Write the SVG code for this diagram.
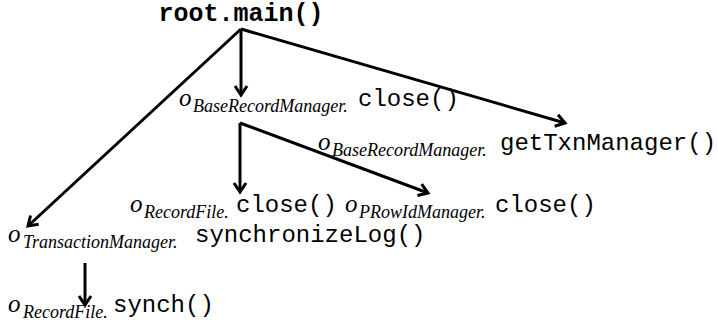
<svg xmlns="http://www.w3.org/2000/svg" width="718" height="328" viewBox="0 0 718 328">
<defs>
<marker id="ah" markerUnits="userSpaceOnUse" viewBox="-12 -8 14 16" refX="0" refY="0" markerWidth="14" markerHeight="16" orient="auto" overflow="visible">
<path d="M-9,-6 L0,0 L-9,6" fill="none" stroke="#000" stroke-width="3" stroke-linejoin="miter"/>
</marker>
<style>
.ln{stroke:#000;stroke-width:3;fill:none;marker-end:url(#ah)}
.o{font-family:"Liberation Serif",serif;font-style:italic;font-size:25px;fill:#000}
.sub{font-family:"Liberation Serif",serif;font-style:italic;font-size:18px;fill:#000}
.m{font-family:"Liberation Mono",monospace;font-size:24px;fill:#000}
.root{font-family:"Liberation Mono",monospace;font-size:25px;font-weight:bold;fill:#000}
</style>
</defs>
<rect width="718" height="328" fill="#fff"/>
<g id="connectors">
<line class="ln" x1="241" y1="29" x2="241" y2="95"/>
<line class="ln" x1="241" y1="29" x2="565" y2="123"/>
<line class="ln" x1="241" y1="29" x2="28" y2="226"/>
<line class="ln" x1="240" y1="123" x2="240" y2="192"/>
<line class="ln" x1="240" y1="123" x2="428" y2="193"/>
<line class="ln" x1="85" y1="263" x2="85" y2="305"/>
</g>
<g id="root"><text class="root" x="241" y="21" text-anchor="middle">root.main()</text></g>
<g id="brm-close">
<text class="o" x="179" y="106">o</text><text class="sub" x="193" y="112">BaseRecordManager.</text><text class="m" x="358" y="106">close()</text>
</g>
<g id="brm-gettxn">
<text class="o" x="318" y="150">o</text><text class="sub" x="332" y="156">BaseRecordManager.</text><text class="m" x="500" y="150">getTxnManager()</text>
</g>
<g id="rf-close">
<text class="o" x="130" y="212">o</text><text class="sub" x="144" y="218">RecordFile.</text><text class="m" x="236" y="212">close()</text>
</g>
<g id="prow-close">
<text class="o" x="345" y="212">o</text><text class="sub" x="359" y="218">PRowIdManager.</text><text class="m" x="495" y="212">close()</text>
</g>
<g id="tm-sync">
<text class="o" x="8" y="242">o</text><text class="sub" x="23" y="248">TransactionManager.</text><text class="m" x="195" y="242">synchronizeLog()</text>
</g>
<g id="rf-synch">
<text class="o" x="8" y="312">o</text><text class="sub" x="23" y="318">RecordFile.</text><text class="m" x="113" y="312">synch()</text>
</g>
</svg>
